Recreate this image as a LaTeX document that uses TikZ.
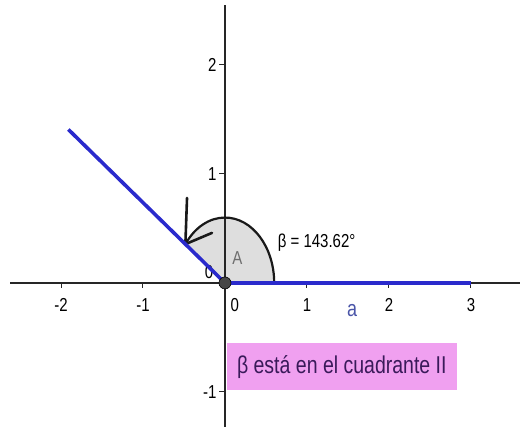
\documentclass[tikz,border=0pt]{standalone}
\usepackage{fontspec}
\setmainfont{Liberation Sans}
\usetikzlibrary{calc}
\definecolor{raybl}{HTML}{2A2ACC}
\definecolor{sectgray}{HTML}{DEDEDE}
\definecolor{boxpink}{HTML}{F0A0F0}
\definecolor{boxtext}{HTML}{3A1A5A}
\definecolor{ptgray}{HTML}{474747}
\definecolor{lblgray}{HTML}{6E6E6E}
\definecolor{lblblue}{HTML}{4A55A8}
\newcommand{\tallt}[1]{\scalebox{1}[1.25]{#1}}

\begin{document}
\begin{tikzpicture}[x=82pt,y=109pt,
  axis/.style={line width=1.4pt, color=black!85},
  tickmark/.style={line width=1pt, color=black!85},
  ticklbl/.style={font=\fontsize{15}{17}\selectfont, inner sep=1pt},
  arcline/.style={line width=2.2pt, color=black!90, line cap=round, line join=round},
  rayline/.style={line width=3.6pt, color=raybl},
  infobox/.style={fill=boxpink, text=boxtext, font=\fontsize{19.5}{21}\selectfont, inner sep=0pt, anchor=north west, minimum width=230pt, minimum height=47pt},
]
\useasboundingbox (-2.744,-1.321) rectangle (3.598,2.596);

\coordinate (O) at (0,0);
\coordinate (P) at (-1.91,1.408);
\coordinate (Q) at (3,0);
\coordinate (tip) at (143.62:0.6);

% angle sector
\fill[sectgray] (O) -- (0.6,0) arc[start angle=0, end angle=143.62, radius=0.6] -- cycle;
\node[ticklbl, anchor=east] (y0) at (-0.13,0.1) {\tallt{0}};

% axes and ticks
\draw[axis] (-2.62,0) -- (3.598,0);
\draw[axis] (0,-1.321) -- (0,2.55);
\foreach \x in {-2,-1,1,2,3}
 {\draw[tickmark] (\x,0) -- (\x,-0.05); \node[ticklbl] (x\x) at (\x,-0.2) {\tallt{\x}};}
\node[ticklbl] (x0) at (0.12,-0.2) {\tallt{0}};
\foreach \y in {-1,1,2}
 {\draw[tickmark] (0,\y) -- (-0.07,\y); \node[ticklbl, anchor=east] (y\y) at (-0.09,\y) {\tallt{\y}};}

% angle arc with arrow
\draw[arcline] (0.6,0) arc[start angle=0, end angle=143.62, radius=0.6];
\draw[arcline, line width=2.6pt] (-0.463,0.78) -- (tip) -- (-0.159,0.459);

% segments
\draw[rayline] (O) -- (P);
\draw[rayline] (O) -- (Q);
\fill[ptgray] (O) circle[radius=6pt];
\draw[black, line width=0.6pt] (O) circle[radius=6pt];

% labels
\node[ticklbl, text=lblgray] (lblA) at (0.15,0.23) {\tallt{A}};
\node[ticklbl, anchor=west] (lblbeta) at (0.63,0.367) {\tallt{β = 143.62°}};
\node[font=\fontsize{18}{20}\selectfont, text=lblblue, inner sep=1pt] (lbla) at (1.55,-0.25) {\tallt{a}};
\node[infobox] (info) at (0.02,-0.55) {\tallt{β está en el cuadrante II}};

\end{tikzpicture}
\end{document}
